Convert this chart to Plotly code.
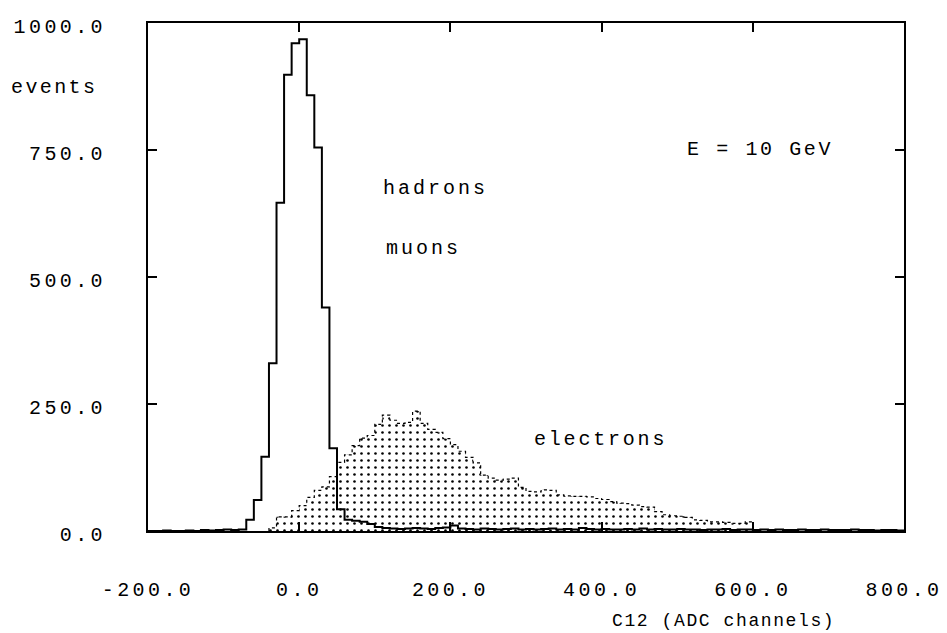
import plotly.graph_objects as go

# ---------------- data ----------------
bin_width = 10

hadron_start = -200
hadron_counts = [0, 0, 1, 0, 0, 1, 0, 2, 1, 2, 3, 2, 3,
                 22, 61, 146, 330, 646, 898, 960, 968, 858, 755, 440, 163, 43, 22, 20, 18, 14,
                 8, 6, 5, 4, 5, 6, 5, 4, 6, 7, 11, 5,
                 4, 3, 5, 4, 3, 4, 5, 3, 4, 3, 4, 5, 3, 4, 3, 6, 4, 3, 4, 3,
                 3, 4, 3, 5, 3, 4, 3, 3, 4, 3, 3, 2, 3, 3, 4, 2, 3, 3, 2, 3,
                 2, 3, 2, 2, 3, 2, 2, 3, 2, 2, 2, 3, 2, 2, 1, 2, 2, 1]

electron_start = -40
electron_counts = [6, 28, 28, 40, 50, 66, 80, 87, 107, 135,
                   150, 168, 183, 188, 210, 228, 218, 212, 214, 236,
                   212, 200, 194, 182, 170, 157, 145, 134, 110, 104,
                   100, 102, 104, 86, 78, 77, 81, 80, 71, 69,
                   68, 68, 67, 64, 62, 58, 55, 54, 51, 48,
                   47, 38, 32, 30, 29, 27, 22, 21, 18, 18,
                   17, 15, 15, 18]

x_tickvals = [-200, 0, 200, 400, 600, 800]
x_ticktext = ["-200.0", "0.0", "200.0", "400.0", "600.0", "800.0"]
y_tickvals = [0, 250, 500, 750, 1000]
y_ticktext = ["0.0", "250.0", "500.0", "750.0", "1000.0"]


def step_xy(start, counts, width):
    xs = [start]
    ys = [0]
    for i, c in enumerate(counts):
        xs.append(start + i * width)
        ys.append(c)
    end = start + len(counts) * width
    xs += [end, end]
    ys += [counts[-1], 0]
    return xs, ys


def ls(t, sp=3.4):
    return '<span style="letter-spacing:%spx">%s</span>' % (sp, t)


FONT = "Liberation Mono"

ex, ey = step_xy(electron_start, electron_counts, bin_width)
hx, hy = step_xy(hadron_start, hadron_counts, bin_width)

fig = go.Figure()
fig.add_trace(go.Scatter(
    x=ex, y=ey, mode="lines", line=dict(color="black", width=1.2, dash="dot", shape="hv"),
    fill="tozeroy", fillcolor="white",
    fillpattern=dict(shape=".", size=7, solidity=0.11, fgcolor="black", bgcolor="white", fgopacity=1),
    hoverinfo="skip", showlegend=False))
fig.add_trace(go.Scatter(
    x=hx, y=hy, mode="lines", line=dict(color="black", width=2, shape="hv"),
    hoverinfo="skip", showlegend=False))

ann_font = dict(family=FONT, size=20, color="black")


def ann(x, y, text, ref="data", font=ann_font):
    fig.add_annotation(x=x, y=y, xref="x" if ref == "data" else "paper",
                       yref="y" if ref == "data" else "paper", text=text, showarrow=False,
                       xanchor="center", yanchor="middle", font=font)


ann(180, 675, ls("hadrons", 3.0))
ann(164, 557, ls("muons", 3.0))
ann(399, 181, ls("electrons", 2.8))
ann(609, 751, ls("E = 10 GeV", 2.6))
ann(-0.124, 0.874, ls("events", 2.4), ref="paper")
ann(0.761, -0.177, ls("C12 (ADC channels)", 1.6), ref="paper",
    font=dict(family=FONT, size=18, color="black"))

tick_font = dict(family=FONT, size=20, color="black")
fig.update_xaxes(range=[-200, 800], tickvals=x_tickvals, ticktext=[ls(t, 3.4) for t in x_ticktext],
                 showgrid=False, zeroline=False, showline=True, linecolor="black", linewidth=2,
                 mirror="ticks", ticks="inside", ticklen=9, tickcolor="black", tickwidth=1.5,
                 ticklabelstandoff=39, tickfont=tick_font, automargin=False)
fig.update_yaxes(range=[0, 1000], tickvals=y_tickvals, ticktext=[ls(t, 3.4) for t in y_ticktext],
                 showgrid=False, zeroline=False, showline=True, linecolor="black", linewidth=2,
                 mirror="ticks", ticks="inside", ticklen=9, tickcolor="black", tickwidth=1.5,
                 ticklabelstandoff=36, ticklabelshift=3, tickfont=tick_font, automargin=False)

fig.update_layout(width=947, height=633, margin=dict(l=148, r=43, t=23, b=102),
                  plot_bgcolor="white", paper_bgcolor="white", showlegend=False)

fig.write_html("out.html")
